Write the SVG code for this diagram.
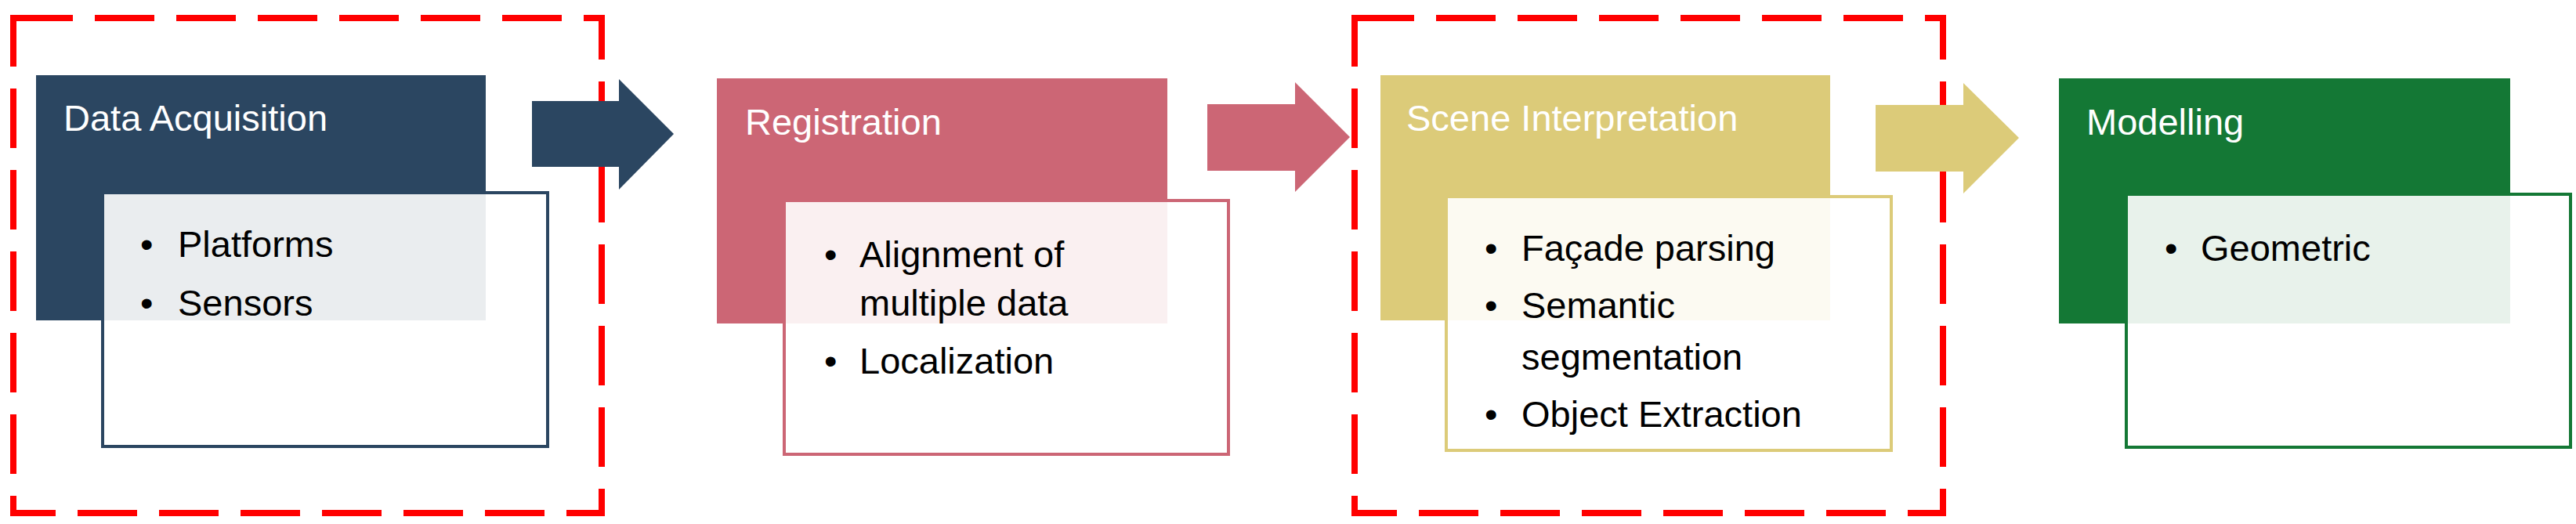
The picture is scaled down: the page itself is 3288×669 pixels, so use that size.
<svg xmlns="http://www.w3.org/2000/svg" width="3288" height="669" viewBox="0 0 3288 669">
<style>
.dash{fill:none;stroke:#FF0000;stroke-width:8;stroke-dasharray:76 28}
.title{font-family:"Liberation Sans",Arial,sans-serif;font-size:47px;fill:#FFFFFF}
.item{font-family:"Liberation Sans",Arial,sans-serif;font-size:47px;fill:#000000}
.panel{fill:#FFFFFF;fill-opacity:0.9;stroke-width:4}
</style>
<rect width="3288" height="669" fill="#FFFFFF"/>
<g id="group-1"><rect class="dash" x="17" y="23" width="751" height="632"/></g>
<g id="group-2"><rect class="dash" x="1729" y="23" width="751" height="632"/></g>
<g id="connectors">
<polygon points="679,129 790,129 790,101 860,171 790,242 790,213 679,213" fill="#2B4661"/>
<polygon points="1541,133 1653,133 1653,105 1723,175 1653,245 1653,218 1541,218" fill="#CC6675"/>
<polygon points="2394,134 2506,134 2506,106 2577,176 2506,247 2506,219 2394,219" fill="#DCCB79"/>
</g>
<g id="data-acquisition">
<rect x="46" y="96" width="574" height="313" fill="#2B4661"/>
<text class="title" x="81" y="167">Data Acquisition</text>
<rect class="panel" x="131" y="246" width="568" height="324" stroke="#2B4661"/>
<text class="item" x="179" y="328">•</text><text class="item" x="227" y="328">Platforms</text>
<text class="item" x="179" y="403">•</text><text class="item" x="227" y="403">Sensors</text>
</g>
<g id="registration">
<rect x="915" y="100" width="575" height="313" fill="#CC6675"/>
<text class="title" x="951" y="172">Registration</text>
<rect class="panel" x="1001" y="256" width="567" height="324" stroke="#CC6675"/>
<text class="item" x="1052" y="341">•</text><text class="item" x="1097" y="341">Alignment of</text>
<text class="item" x="1097" y="403">multiple data</text>
<text class="item" x="1052" y="477">•</text><text class="item" x="1097" y="477">Localization</text>
</g>
<g id="scene-interpretation">
<rect x="1762" y="96" width="574" height="313" fill="#DCCB79"/>
<text class="title" x="1795" y="167">Scene Interpretation</text>
<rect class="panel" x="1846" y="251" width="568" height="324" stroke="#DCCB79"/>
<text class="item" x="1895" y="333">•</text><text class="item" x="1942" y="333">Façade parsing</text>
<text class="item" x="1895" y="406">•</text><text class="item" x="1942" y="406">Semantic</text>
<text class="item" x="1942" y="472">segmentation</text>
<text class="item" x="1895" y="545">•</text><text class="item" x="1942" y="545">Object Extraction</text>
</g>
<g id="modelling">
<rect x="2628" y="100" width="576" height="313" fill="#147835"/>
<text class="title" x="2663" y="172">Modelling</text>
<rect class="panel" x="2714" y="248" width="567" height="323" stroke="#147835"/>
<text class="item" x="2763" y="333">•</text><text class="item" x="2809" y="333">Geometric</text>
</g>
</svg>
